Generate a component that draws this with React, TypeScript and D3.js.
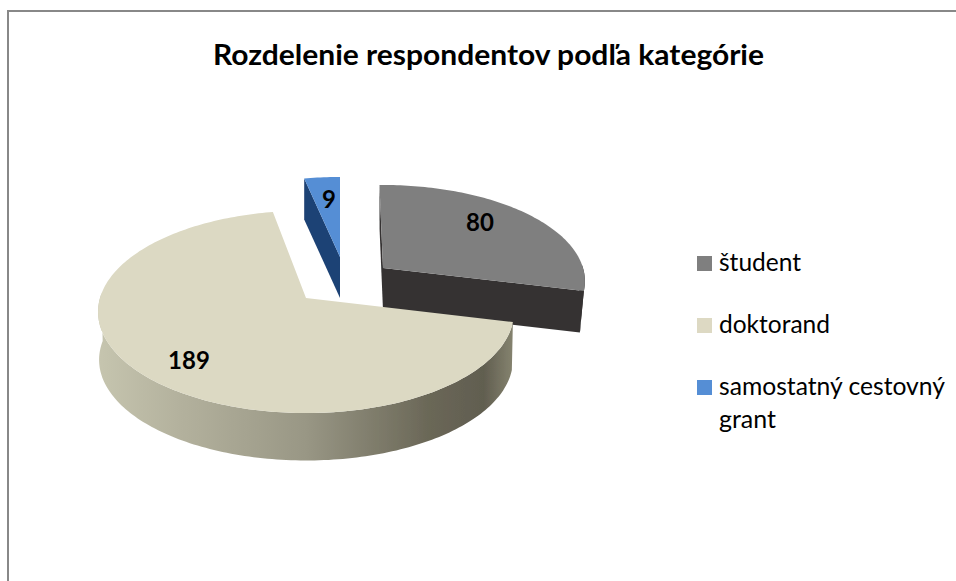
import React from "react";
import * as d3 from "d3";

const categories = ["študent", "doktorand", "samostatný cestovný grant"];
const values = [80, 189, 9];
const legendLines = [["študent"], ["doktorand"], ["samostatný cestovný", "grant"]];
const legendWidths = [[82], [111], [226, 57]];
const titleText = "Rozdelenie respondentov podľa kategórie";

const topColors = ["#7f7f7f", "#dcd9c3", "#558ed5"];
const legendColors = ["#7f7f7f", "#ddd9c3", "#558ed5"];
const sideColors = ["#353333", "url(#dokSide)", "#1f4274"];

// exploded slice geometry: apex, radii, extrusion depth, rim shrink of the lower face, edge nudges
const geometry = [
  { cx: 383, cy: 268, rx: 200, ry: 94.4, h: 42, s: 0.98, rot0: -0.02, rot1: 0 },
  { cx: 306, cy: 298, rx: 206, ry: 99.3, h: 48, s: 0.995, rot0: 0, rot1: 0.02 },
  { cx: 340, cy: 257, rx: 201, ry: 91, h: 41, s: 1, rot0: 0, rot1: 0 },
];
const labelPos = [
  [480, 222],
  [189, 360],
  [329, 199],
];
const PERSPECTIVE = 0.137;
const FONT = "Lato, Carlito, 'Open Sans', sans-serif";

function project(g: any, a: number, r: number, lower: boolean): [number, number] {
  const u = Math.sin(a) * r;
  const v = Math.cos(a) * r;
  const w = 1 + PERSPECTIVE * v;
  const s = lower ? g.s : 1;
  const x = g.cx + (s * g.rx * u) / w;
  const y = g.cy - (s * g.ry * v) / w + (lower ? g.h : 0);
  return [x, y];
}

const line = d3.line().context(null);

function samples(a0: number, a1: number) {
  const n = Math.max(2, Math.ceil(Math.abs(a1 - a0) / 0.02));
  return d3.range(n + 1).map((i) => a0 + ((a1 - a0) * i) / n);
}

export default function App() {
  const arcs = d3.pie<number>().sort(null)(values);

  const parts = arcs.map((d, i) => {
    const g = geometry[i];
    const a0 = d.startAngle + g.rot0;
    const a1 = d.endAngle + g.rot1;
    const rim = samples(a0, a1);
    const apex = project(g, 0, 0, false);
    const top = line([apex, ...rim.map((a) => project(g, a, 1, false))]) + "Z";
    const apexLow = project(g, 0, 0, true);
    // rim wall: only the part facing the viewer
    const front = rim.filter((a) => Math.cos(a) < 0.05);
    const wall =
      front.length > 1
        ? line([
            ...front.map((a) => project(g, a, 1, false)),
            ...front.slice().reverse().map((a) => project(g, a, 1, true)),
          ]) + "Z"
        : null;
    const faceStart =
      line([apex, project(g, a0, 1, false), project(g, a0, 1, true), apexLow]) + "Z";
    const faceEnd =
      line([apex, project(g, a1, 1, false), project(g, a1, 1, true), apexLow]) + "Z";
    return { i, top, wall, faceStart, faceEnd };
  });

  const student = parts[0];
  const dok = parts[1];
  const grant = parts[2];

  return (
    <svg
      width={956}
      height={581}
      viewBox="0 0 956 581"
      style={{ position: "absolute", left: 0, top: 0, display: "block", background: "#fff" }}
    >
      <defs>
        <linearGradient id="dokSide" gradientUnits="userSpaceOnUse" x1={97} x2={513} y1={0} y2={0}>
          <stop offset="0" stopColor="#c6c5af" />
          <stop offset="0.2" stopColor="#b3b19d" />
          <stop offset="0.5" stopColor="#999785" />
          <stop offset="0.8" stopColor="#6a6757" />
          <stop offset="0.93" stopColor="#615e50" />
          <stop offset="1" stopColor="#85836f" />
        </linearGradient>
        <filter id="soft" x="-5%" y="-5%" width="110%" height="110%">
          <feGaussianBlur stdDeviation="0.5" />
        </filter>
      </defs>

      <path d="M8,581 V11 H956" fill="none" stroke="#888888" strokeWidth={2} />

      <text
        x={488.5}
        y={65}
        textAnchor="middle"
        fontFamily={FONT}
        fontWeight={700}
        fontSize={28}
        textLength={551}
        lengthAdjust="spacingAndGlyphs"
        fill="#000"
      >
        {titleText}
      </text>

      <g filter="url(#soft)">
        {/* študent */}
        <path d={student.faceStart} fill={sideColors[0]} />
        {student.wall && <path d={student.wall} fill={sideColors[0]} />}
        <path d={student.faceEnd} fill={sideColors[0]} />
        <path d={student.top} fill={topColors[0]} />

        {/* samostatný cestovný grant */}
        <path d={grant.faceStart} fill={sideColors[2]} />
        <path d={grant.top} fill={topColors[2]} />

        {/* doktorand */}
        {dok.wall && <path d={dok.wall} fill={sideColors[1]} />}
        <path d={dok.top} fill={topColors[1]} />
      </g>

      {values.map((v, i) => (
        <text
          key={categories[i]}
          x={labelPos[i][0]}
          y={labelPos[i][1]}
          dy="0.36em"
          textAnchor="middle"
          fontFamily={FONT}
          fontWeight={700}
          fontSize={24}
          fill="#000"
        >
          {v}
        </text>
      ))}

      {legendLines.map((lines, i) => {
        const base = 271 + i * 62;
        return (
          <g key={categories[i]}>
            <rect x={697} y={base - 15} width={15} height={15} fill={legendColors[i]} />
            {lines.map((t, j) => (
              <text
                key={t}
                x={719}
                y={base + j * 33}
                fontFamily={FONT}
                fontSize={25}
                textLength={legendWidths[i][j]}
                lengthAdjust="spacingAndGlyphs"
                fill="#000"
              >
                {t}
              </text>
            ))}
          </g>
        );
      })}
    </svg>
  );
}
